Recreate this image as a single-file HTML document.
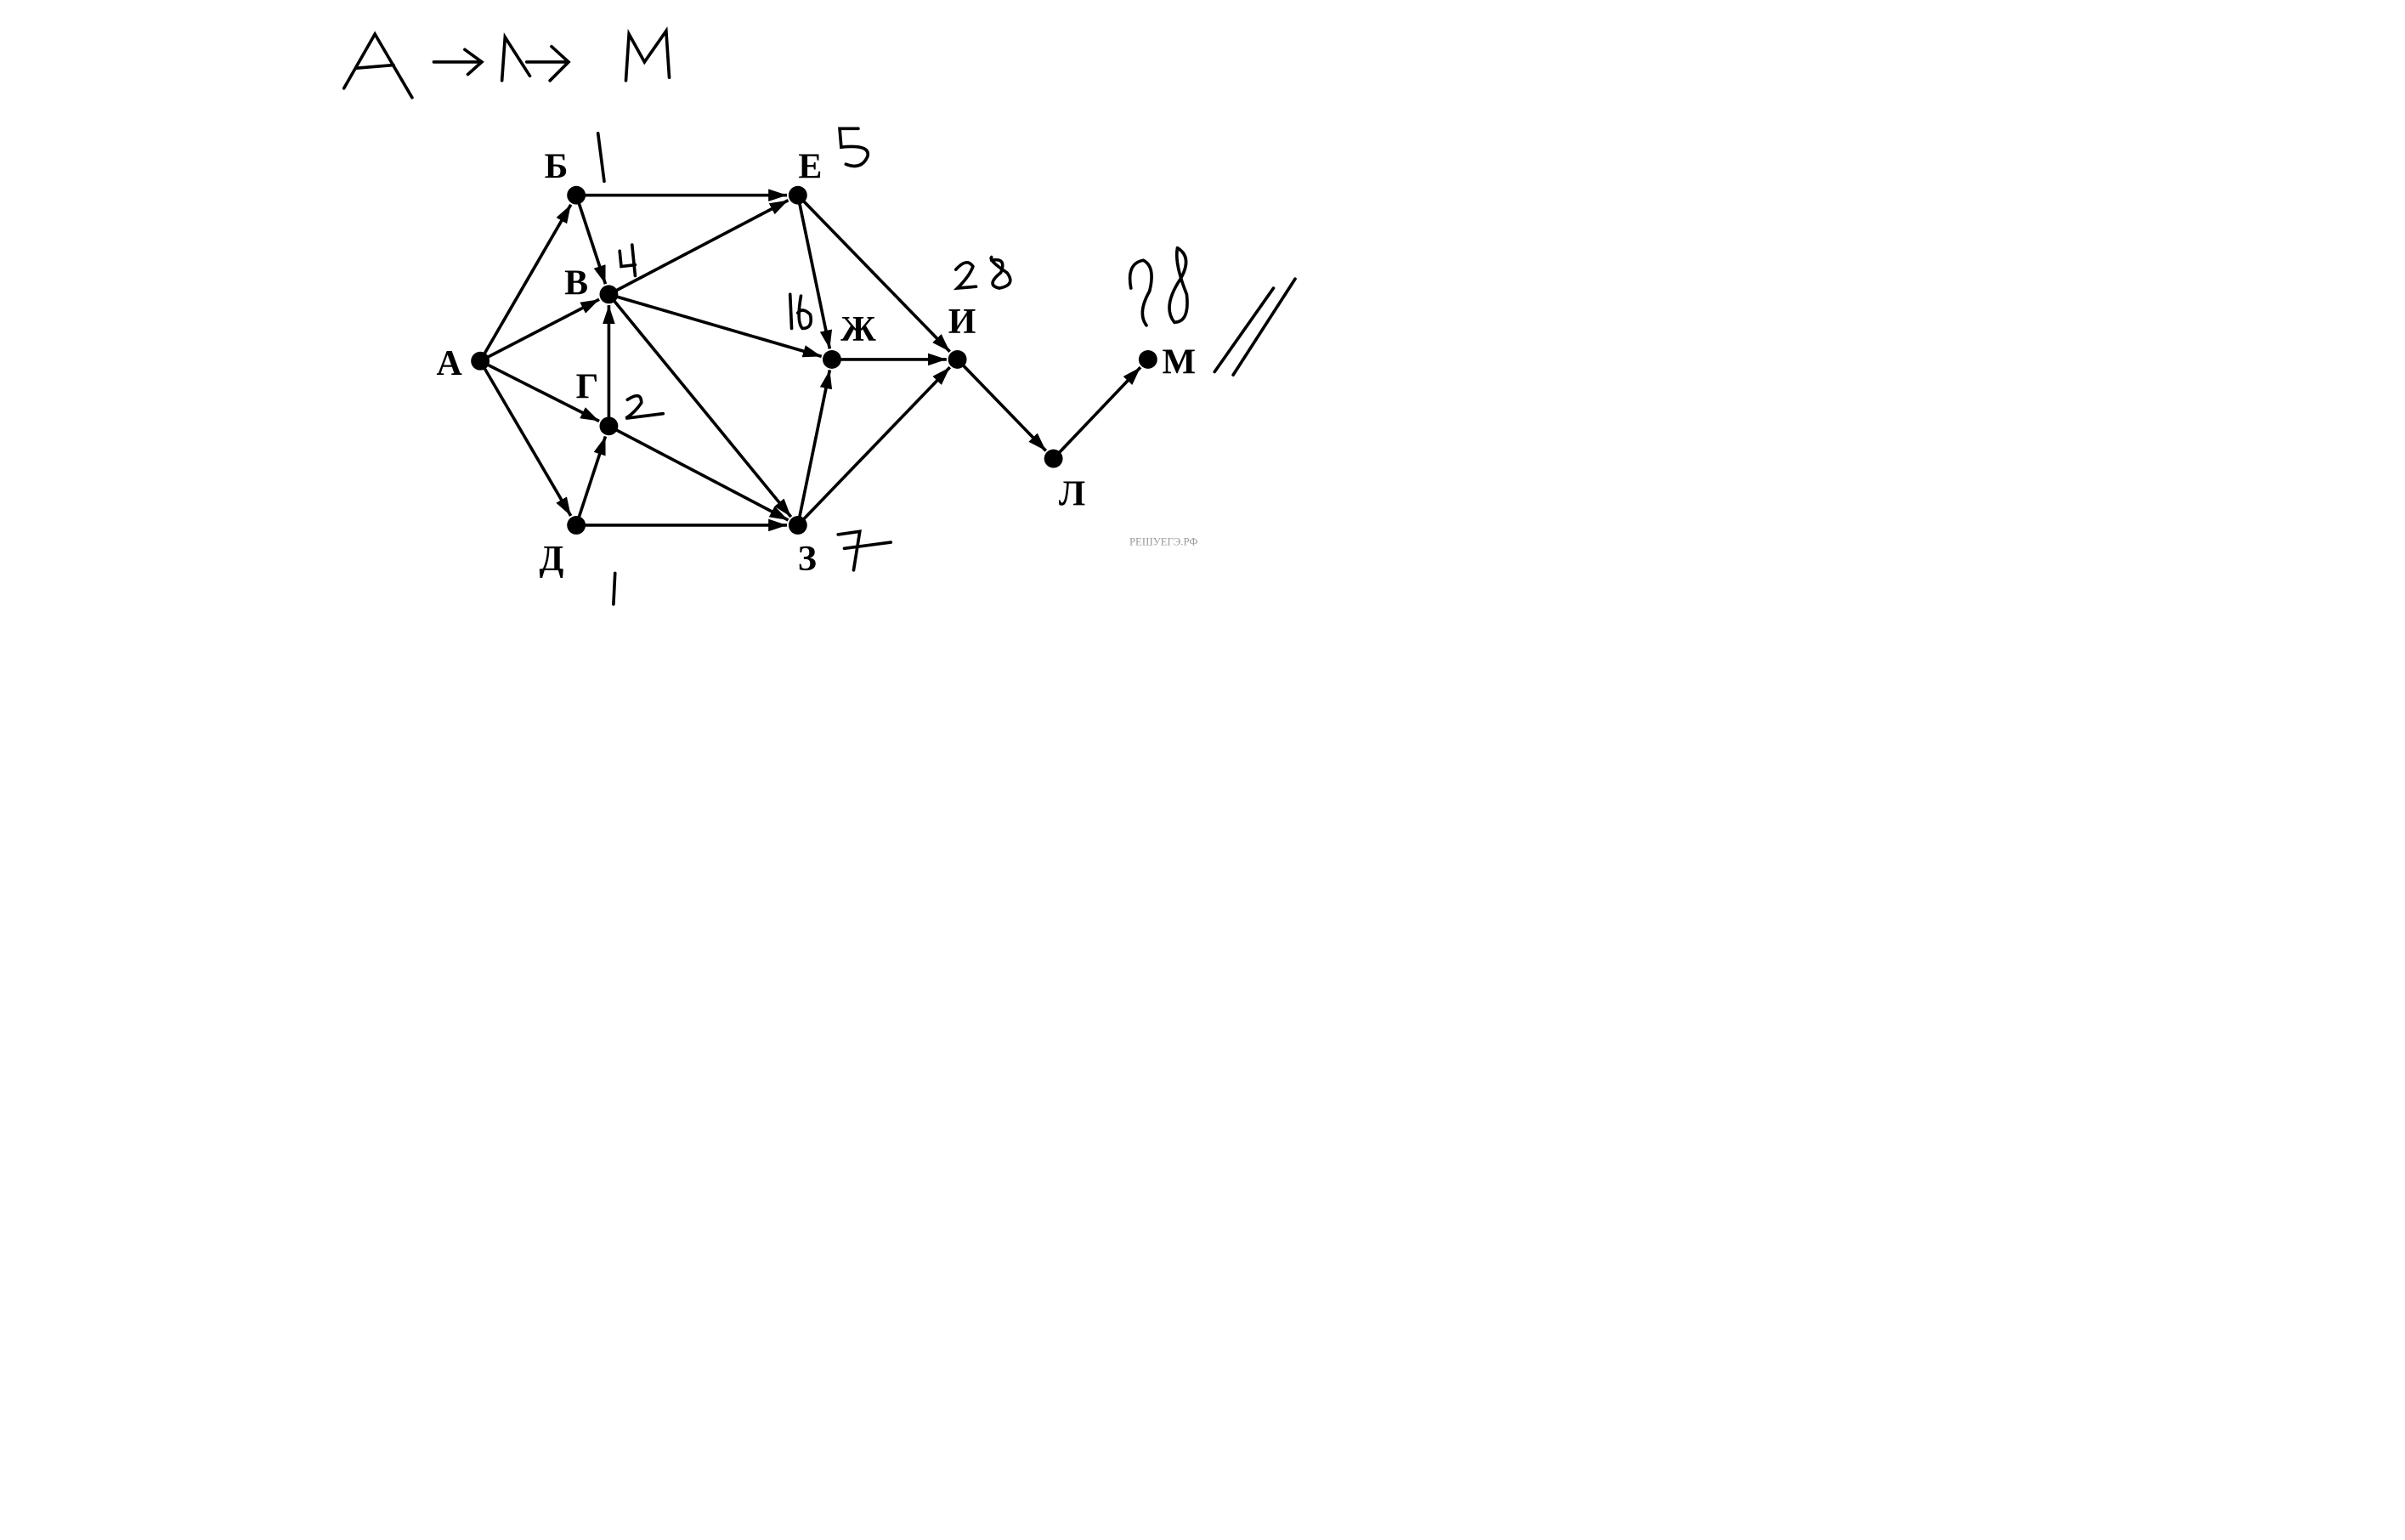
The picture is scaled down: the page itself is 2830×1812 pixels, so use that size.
<!DOCTYPE html>
<html><head><meta charset="utf-8"><style>
html,body{margin:0;padding:0;background:#fff;width:2830px;height:1812px;overflow:hidden}
svg{display:block}
text{font-family:"Liberation Serif","DejaVu Serif",serif}
</style></head><body>
<svg id="g" width="2830" height="1812" viewBox="0 0 1552.4 994" preserveAspectRatio="none" xmlns="http://www.w3.org/2000/svg">
<defs><marker id="ah" viewBox="0 0 12 8" refX="12" refY="4" markerWidth="12" markerHeight="8" markerUnits="userSpaceOnUse" orient="auto"><path d="M0,0 L12,4 L0,8 z" fill="#000"/></marker></defs>
<g transform="translate(-3,-2)">
<g id="edges"></g>
<g id="nodes"></g>
</g>
<g fill="none" stroke="#000" stroke-width="2" stroke-linecap="round">
<path d="M222,57 L242,22 L266,63 M230,44 L254,42"/>
<path d="M280,40 L310,40 M300,32 L311,40 L302,48"/>
<path d="M324,52 L326,24 L342,49 M340,40 L366,40 M356,30 L367,40 L355,52"/>
<path d="M404,52 L406,22 L416,40 L430,20 L432,50"/>
<path d="M386,86 L390,117"/>
<path d="M554,83 L542,83 L543,95 Q562,93 560,101 Q556,110 546,106"/>
<path d="M400,162 L401,172 L410,171 M408,158 L410,178"/>
<path d="M405,258 Q414,252 414,260 Q410,266 404,270 L428,267"/>
<path d="M510,190 L511,212 M517,191 Q514,208 518,212 Q525,212 523,203 Q518,198 515,202"/>
<path d="M617,174 Q624,166 628,172 Q626,178 618,186 L630,185 M640,168 Q650,166 646,176 Q636,184 645,186 Q656,184 650,176 Q638,168 640,166"/>
<path d="M730,186 Q727,170 738,168 Q746,172 742,188 Q734,202 740,210 M760,160 Q770,166 762,180 Q750,198 758,208 Q768,208 766,190 Q758,170 760,160"/>
<path d="M784,240 L822,186"/>
<path d="M796,242 L836,180"/>
<path d="M541,345 L555,343 L551,368 M545,354 L575,350"/>
<path d="M397,370 L396,390"/>
</g>
<text x="729" y="352" font-size="7" fill="#999" font-family="Liberation Sans,sans-serif">РЕШУЕГЭ.РФ</text>
</svg>
<script>
const nodeNames = ["А","Б","В","Г","Д","Е","Ж","З","И","Л","М"];
const nodeX = [313,375,396,396,375,518,540,518,621,683,744];
const nodeY = [235,128,192,277,341,128,234,341,234,298,234];
const labelDX = [-20,-13,-21,-14,-16,8,17,6,3,12,20];
const labelDY = [9,-11,0,-18,29,-11,-12,29,-17,30,9];
const edgeFrom = ["А","А","А","А","Б","Б","В","В","В","Г","Г","Д","Д","Е","Е","Ж","З","З","И","Л"];
const edgeTo   = ["Б","В","Г","Д","В","Е","Е","Ж","З","В","З","Г","З","Ж","И","И","Ж","И","Л","М"];
const NS="http://www.w3.org/2000/svg";
const eg=document.getElementById('edges'), ng=document.getElementById('nodes');
const idx=n=>nodeNames.indexOf(n);
for(let i=0;i<edgeFrom.length;i++){
  const a=idx(edgeFrom[i]), b=idx(edgeTo[i]);
  const x1=nodeX[a],y1=nodeY[a],x2=nodeX[b],y2=nodeY[b];
  const L=Math.hypot(x2-x1,y2-y1), r=7;
  const l=document.createElementNS(NS,'line');
  
  
  l.setAttribute('x1',x1);l.setAttribute('y1',y1);
  l.setAttribute('x2',x2-(x2-x1)/L*r);l.setAttribute('y2',y2-(y2-y1)/L*r);
  l.setAttribute('stroke','#000');l.setAttribute('stroke-width','2');
  l.setAttribute('marker-end','url(#ah)');
  eg.appendChild(l);
}
for(let i=0;i<nodeNames.length;i++){
  const c=document.createElementNS(NS,'circle');
  
  
  c.setAttribute('cx',nodeX[i]);c.setAttribute('cy',nodeY[i]);c.setAttribute('r','6');
  ng.appendChild(c);
  const t=document.createElementNS(NS,'text');
  
  
  t.setAttribute('x',nodeX[i]+labelDX[i]);t.setAttribute('y',nodeY[i]+labelDY[i]);
  t.setAttribute('font-size','23');t.setAttribute('font-weight','bold');t.setAttribute('text-anchor','middle');
  t.textContent=nodeNames[i];
  ng.appendChild(t);
}
</script>
</body></html>
